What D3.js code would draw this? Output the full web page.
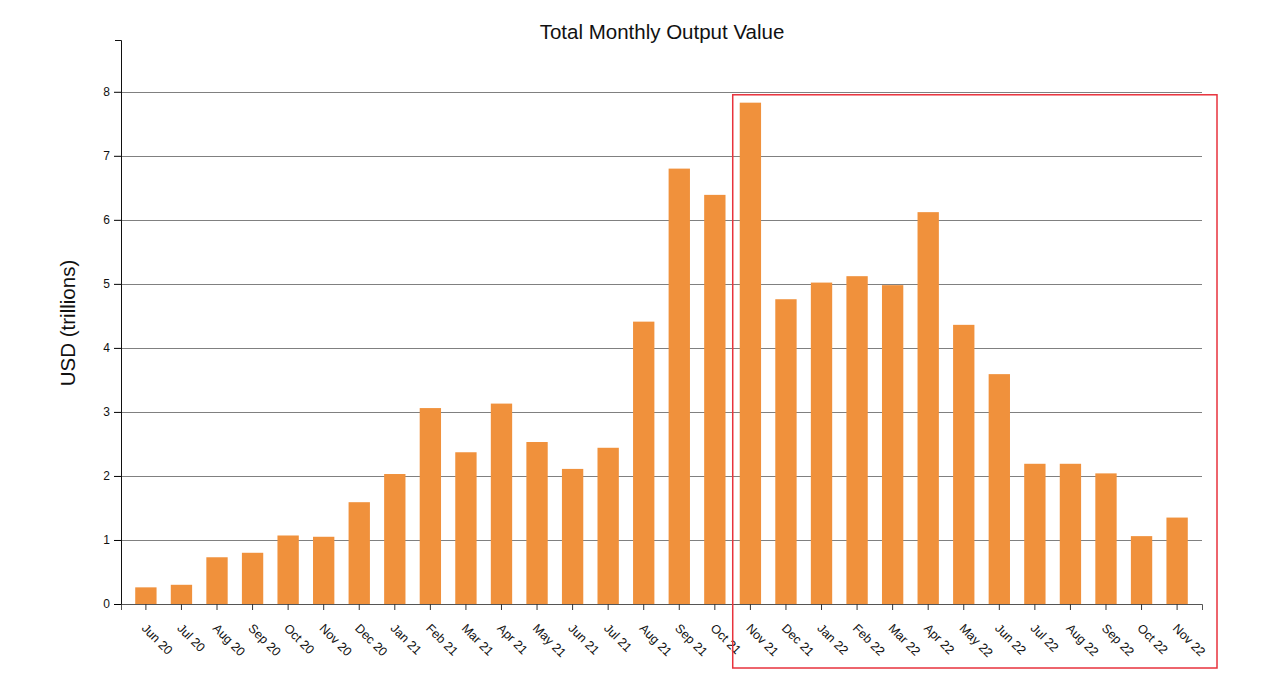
<!DOCTYPE html>
<html>
<head>
<meta charset="utf-8">
<script src="https://cdn.jsdelivr.net/npm/d3@7"></script>
<style>
  body { margin: 0; background: #fff; }
  svg { display: block; font-family: "Helvetica Neue", Helvetica, Arial, "Liberation Sans", sans-serif; }
</style>
</head>
<body>
<div id="chart"></div>
<script>
var months = ['Jun 20','Jul 20','Aug 20','Sep 20','Oct 20','Nov 20','Dec 20',
  'Jan 21','Feb 21','Mar 21','Apr 21','May 21','Jun 21','Jul 21','Aug 21','Sep 21','Oct 21','Nov 21','Dec 21',
  'Jan 22','Feb 22','Mar 22','Apr 22','May 22','Jun 22','Jul 22','Aug 22','Sep 22','Oct 22','Nov 22']

var values = [0.26, 0.30, 0.73, 0.80, 1.07, 1.05, 1.59,
  2.03, 3.06, 2.37, 3.13, 2.53, 2.11, 2.44, 4.41, 6.80, 6.39, 7.83, 4.76,
  5.02, 5.12, 4.98, 6.12, 4.36, 3.59, 2.19, 2.19, 2.04, 1.06, 1.35]

var yTicks = [0, 1, 2, 3, 4, 5, 6, 7, 8]

// months inside the red box
var highlightFrom = 'Nov 21'

var margin = {top: 40, right: 78, bottom: 71, left: 121},
    width = 1280 - margin.left - margin.right,
    height = 675 - margin.top - margin.bottom

var data = months.map(function(m, i) { return {month: m, value: values[i]} })

var svg = d3.select('#chart')
  .append('svg')
  .attr('width', 1280)
  .attr('height', 675)

var g = svg.append('g')
  .attr('transform', 'translate(' + margin.left + ',' + margin.top + ')')

var x = d3.scaleBand()
  .domain(months)
  .range([0, width])
  .paddingInner(0.4)
  .paddingOuter(0.4)

var y = d3.scaleLinear()
  .domain([0, d3.max(values) * 1.125])
  .range([height, 0])

// grid lines
g.append('g')
  .selectAll('line')
  .data(yTicks.filter(function(t) { return t > 0 }))
  .enter()
  .append('line')
  .attr('x1', 0)
  .attr('x2', width)
  .attr('y1', function(d) { return Math.round(y(d)) + 0.5 })
  .attr('y2', function(d) { return Math.round(y(d)) + 0.5 })
  .attr('stroke', '#808080')
  .attr('stroke-width', 1.2)

// bars
g.selectAll('.bar')
  .data(data)
  .enter()
  .append('rect')
  .attr('class', 'bar')
  .attr('x', function(d) { return x(d.month) })
  .attr('width', x.bandwidth())
  .attr('y', function(d) { return y(d.value) })
  .attr('height', function(d) { return height - y(d.value) })
  .attr('fill', '#f0913c')

// x axis
var xAxis = g.append('g')
  .attr('transform', 'translate(0,' + height + ')')
  .call(d3.axisBottom(x).tickSizeInner(6).tickSizeOuter(6))

xAxis.select('.domain').attr('stroke', '#555')
xAxis.selectAll('.tick line').attr('stroke', '#333')
xAxis.selectAll('text')
  .attr('x', 0)
  .attr('y', 0)
  .attr('dy', 0)
  .attr('transform', 'translate(-5,25) rotate(45)')
  .style('text-anchor', 'start')
  .style('font-size', '12.5px')
  .style('font-family', 'inherit')
  .attr('fill', '#111')

// y axis
var yAxis = g.append('g')
  .call(d3.axisLeft(y).tickValues(yTicks).tickFormat(d3.format('d')).tickSizeInner(7).tickSizeOuter(6).tickPadding(4))

yAxis.select('.domain').attr('stroke', '#111')
yAxis.selectAll('text')
  .style('font-size', '12px')
  .style('font-family', 'inherit')
  .attr('fill', '#111')

// title
svg.append('text')
  .attr('x', 662)
  .attr('y', 39)
  .attr('text-anchor', 'middle')
  .style('font-size', '20.5px')
  .attr('fill', '#111')
  .text('Total Monthly Output Value')

// y label
svg.append('text')
  .attr('transform', 'translate(75,323) rotate(-90)')
  .attr('text-anchor', 'middle')
  .style('font-size', '20.5px')
  .attr('fill', '#111')
  .text('USD (trillions)')

// highlight box
var boxLeft = x(highlightFrom) - 7
g.append('rect')
  .attr('x', boxLeft)
  .attr('y', y(8) + 3)
  .attr('width', width + 15 - boxLeft)
  .attr('height', height + 64 - (y(8) + 3))
  .attr('fill', 'none')
  .attr('stroke', '#e8323c')
  .attr('stroke-width', 1.5)
</script>
</body>
</html>
